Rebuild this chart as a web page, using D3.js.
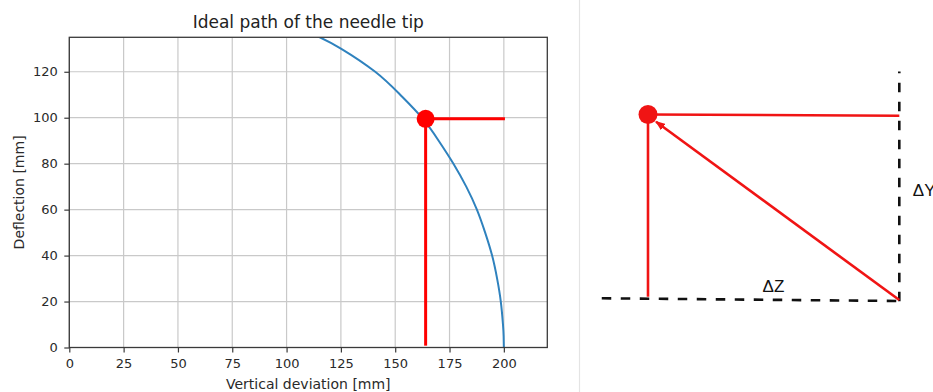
<!DOCTYPE html>
<html><head><meta charset="utf-8">
<script src="https://cdn.jsdelivr.net/npm/d3@7"></script>
<style>body{margin:0;background:#fff;overflow:hidden} svg{display:block}</style>
</head><body><svg id="c" width="933" height="392"></svg>
<script>
// ---- chart data ----
const chartTitle = "Ideal path of the needle tip";
const xLabel = "Vertical deviation [mm]";
const yLabel = "Deflection [mm]";
const xTicks = [0, 25, 50, 75, 100, 125, 150, 175, 200];
const yTicks = [0, 20, 40, 60, 80, 100, 120];
const xDomain = [0, 220];
const yDomain = [0, 135];
// needle tip path
const pathDeflection = [0, 5, 10, 20, 30, 40, 50, 60, 70, 80, 90, 100, 110, 120, 130, 135, 140];
const pathDeviation  = [200, 199.9, 199.6, 198.6, 196.9, 194.6, 191.4, 187.6, 182.7, 176.8, 170, 162.3, 152.3, 140.8, 125.2, 115.3, 104];
// marked point and guide lines
const needlePoint = [164, 99.5];
const guideRight = 200.5;
const guideBottom = 0.8;

// ---- diagram data (schematic units: 0..1 along ΔZ and ΔY) ----
const diagPoint = [0, 1];
const diagDashV = [[1, -0.01], [1, 1.232]];
const diagDashH = [[-0.184, 0.0065], [1, -0.008]];
const diagRedH = [[0, 1], [1, 0.9935]];
const diagRedV = [[0, 1], [0, 0.015]];
const diagArrow = [[1, -0.003], [0.032, 0.961]];
const diagLabels = [{t: "ΔZ", p: [0.456, 0.04]}, {t: "ΔY", p: [1.054, 0.557]}];

const svg = d3.select("#c");

// separator
svg.append("line").attr("x1", 579.5).attr("x2", 579.5).attr("y1", 0).attr("y2", 392)
  .attr("stroke", "#e4e4e4").attr("stroke-width", 1.2);

// ---- chart ----
const L = 69.3, R = 547.3, T = 37.3, B = 347.5;
const x = d3.scaleLinear().domain(xDomain).range([L, R]);
const y = d3.scaleLinear().domain(yDomain).range([B, T]);

const g = svg.append("g");
// grid
g.append("g").selectAll("line").data(xTicks).join("line")
  .attr("x1", d => x(d)).attr("x2", d => x(d)).attr("y1", T).attr("y2", B)
  .attr("stroke", "#c9c9c9").attr("stroke-width", 1.2);
g.append("g").selectAll("line").data(yTicks).join("line")
  .attr("y1", d => y(d)).attr("y2", d => y(d)).attr("x1", L).attr("x2", R)
  .attr("stroke", "#c9c9c9").attr("stroke-width", 1.2);

svg.append("clipPath").attr("id", "clip").append("rect")
  .attr("x", L).attr("y", T).attr("width", R - L).attr("height", B - T);

const pts = pathDeflection.map((d, i) => [pathDeviation[i], d]);
g.append("path").datum(pts).attr("clip-path", "url(#clip)")
  .attr("d", d3.line().x(d => x(d[0])).y(d => y(d[1])).curve(d3.curveNatural))
  .attr("fill", "none").attr("stroke", "#2f82be").attr("stroke-width", 2);

// guide lines
g.append("line").attr("x1", x(needlePoint[0])).attr("x2", x(needlePoint[0]))
  .attr("y1", y(needlePoint[1])).attr("y2", y(guideBottom))
  .attr("stroke", "#ff0000").attr("stroke-width", 3);
g.append("line").attr("x1", x(needlePoint[0])).attr("x2", x(guideRight))
  .attr("y1", y(needlePoint[1])).attr("y2", y(needlePoint[1]))
  .attr("stroke", "#ff0000").attr("stroke-width", 3);
g.append("circle").attr("cx", x(needlePoint[0])).attr("cy", y(needlePoint[1])).attr("r", 9)
  .attr("fill", "#ff0000");

// frame
g.append("rect").attr("x", L).attr("y", T).attr("width", R - L).attr("height", B - T)
  .attr("fill", "none").attr("stroke", "#3a3a3a").attr("stroke-width", 1.3);

// axes
const ax = g.append("g").attr("transform", `translate(0,${B})`)
  .call(d3.axisBottom(x).tickValues(xTicks).tickFormat(d3.format("d")).tickSize(5).tickPadding(6.5));
const ay = g.append("g").attr("transform", `translate(${L},0)`)
  .call(d3.axisLeft(y).tickValues(yTicks).tickFormat(d3.format("d")).tickSize(5).tickPadding(6.5));
[ax, ay].forEach(a => {
  a.select(".domain").remove();
  a.selectAll("line").attr("stroke", "#3a3a3a").attr("stroke-width", 1.2);
  a.selectAll("text").attr("font-family", "DejaVu Sans").attr("font-size", 13).attr("fill", "#2a2a2a");
});

g.append("text").attr("x", (L + R) / 2).attr("y", 27.5).attr("text-anchor", "middle")
  .attr("font-family", "DejaVu Sans").attr("font-size", 17).attr("fill", "#222").text(chartTitle);
g.append("text").attr("x", (L + R) / 2).attr("y", 388.5).attr("text-anchor", "middle")
  .attr("font-family", "DejaVu Sans").attr("font-size", 14).attr("fill", "#2a2a2a").text(xLabel);
g.append("text").attr("transform", `translate(24,${(T + B) / 2}) rotate(-90)`).attr("text-anchor", "middle")
  .attr("font-family", "DejaVu Sans").attr("font-size", 14).attr("fill", "#2a2a2a").text(yLabel);

// ---- diagram ----
const dz = d3.scaleLinear().domain([0, 1]).range([648, 899.3]);
const dy = d3.scaleLinear().domain([0, 1]).range([299.5, 114.5]);
const dg = svg.append("g");
const seg = (sel, p, stroke, w, dash) => sel.append("line")
  .attr("x1", dz(p[0][0])).attr("y1", dy(p[0][1])).attr("x2", dz(p[1][0])).attr("y2", dy(p[1][1]))
  .attr("stroke", stroke).attr("stroke-width", w).attr("stroke-dasharray", dash || null);

svg.append("defs").append("marker").attr("id", "ah").attr("markerUnits", "userSpaceOnUse")
  .attr("markerWidth", 10).attr("markerHeight", 8).attr("refX", 9).attr("refY", 4).attr("orient", "auto")
  .append("path").attr("d", "M0,0 L10,4 L0,8 Z").attr("fill", "#f01414");

seg(dg, diagDashV, "#111", 2.6, "9.5,9.5");
seg(dg, diagDashH, "#111", 2.6, "9.5,9.5");
seg(dg, diagRedH, "#f01414", 2.6);
seg(dg, diagRedV, "#f01414", 2.6);
seg(dg, diagArrow, "#f01414", 2.6).attr("marker-end", "url(#ah)");
dg.append("circle").attr("cx", dz(diagPoint[0])).attr("cy", dy(diagPoint[1])).attr("r", 9.5).attr("fill", "#f01414");
dg.selectAll("text.lbl").data(diagLabels).join("text").attr("class", "lbl")
  .attr("x", d => dz(d.p[0])).attr("y", d => dy(d.p[1]))
  .attr("font-family", "Liberation Sans, Arial, sans-serif").attr("font-size", 17).attr("fill", "#111")
  .text(d => d.t);
</script></body></html>
